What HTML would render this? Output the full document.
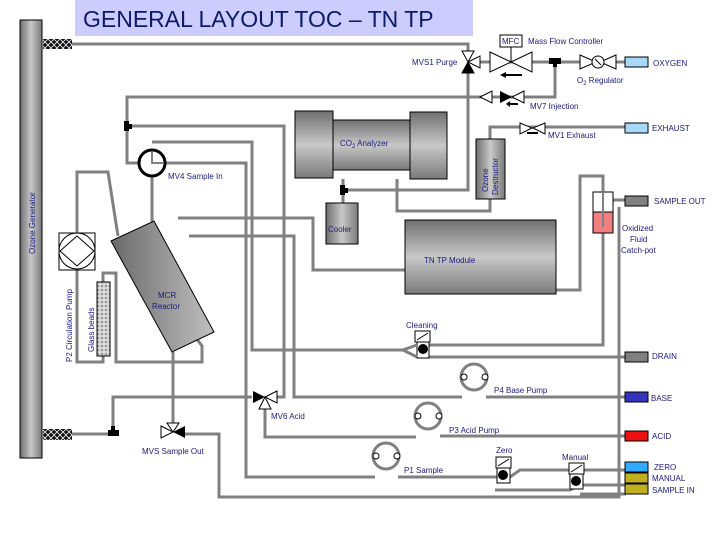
<!DOCTYPE html>
<html><head><meta charset="utf-8"><style>
html,body{margin:0;padding:0;background:#fff;}
svg{display:block;}
text{font-family:"Liberation Sans",sans-serif;fill:#1a1a80;font-size:8px;}
</style></head><body>
<svg width="720" height="540" viewBox="0 0 720 540" xmlns="http://www.w3.org/2000/svg">
<defs>
<linearGradient id="gh" x1="0" y1="0" x2="1" y2="0"><stop offset="0" stop-color="#6e6e6e"/><stop offset="0.5" stop-color="#c8c8c8"/><stop offset="1" stop-color="#7a7a7a"/></linearGradient>
<linearGradient id="gv" x1="0" y1="0" x2="0" y2="1"><stop offset="0" stop-color="#707070"/><stop offset="0.5" stop-color="#c8c8c8"/><stop offset="1" stop-color="#7a7a7a"/></linearGradient>
<linearGradient id="gd" x1="0" y1="0" x2="1" y2="0"><stop offset="0" stop-color="#6a6a6a"/><stop offset="1" stop-color="#c0c0c0"/></linearGradient>
<pattern id="hatch" width="6" height="6" patternUnits="userSpaceOnUse"><rect width="6" height="6" fill="#111"/><path d="M0 3L3 0L6 3L3 6Z" fill="none" stroke="#fff" stroke-width="0.8"/></pattern>
<pattern id="beads" width="4" height="4" patternUnits="userSpaceOnUse"><rect width="4" height="4" fill="#ddd"/><circle cx="2" cy="2" r="1.3" fill="#999"/></pattern>
</defs>

<rect x="75" y="0" width="398" height="36" fill="#ccccff"/>
<text x="83" y="27" style="font-size:23px;fill:#0c1a6a">GENERAL LAYOUT TOC – TN TP</text>

<g fill="none" stroke="#808080" stroke-width="3">
<path d="M72 44H468V55"/>
<path d="M480 62H640"/>
<path d="M555 62V97H127V163H140"/>
<path d="M130 126H284V397H277"/>
<path d="M152 142H252V350H405"/>
<path d="M165 163H246V477H375"/>
<path d="M152 176V230"/>
<path d="M468 73V190H346"/>
<path d="M343 179V203"/>
<path d="M397 179V211H490V199"/>
<path d="M490 139V127H640"/>
<path d="M178 218H313V270H405"/>
<path d="M189 236H294V397H462"/>
<path d="M486 397H640"/>
<path d="M77 233V172H108L118 236"/>
<path d="M77 270V362H103V356"/>
<path d="M103 282V273H116V362H202V346L196 338"/>
<path d="M173 352V425"/>
<path d="M72 434H113V397H252"/>
<path d="M265 405V437H416"/>
<path d="M440 436H640"/>
<path d="M185 434H219V497H619V207"/>
<path d="M398 477H500H510L520 470H640"/>
<path d="M556 290H580V176H603V227"/>
<path d="M613 200H626"/>
<path d="M603 232V345H420"/>
<path d="M420 357H626"/>
<path d="M495 490H570L580 485H626"/>
<path d="M580 494H626"/>
</g>

<rect x="20" y="20" width="22" height="438" fill="url(#gh)" stroke="#000"/>
<text transform="translate(35,254) rotate(-90)">Ozone Generator</text>
<rect x="43" y="39" width="29" height="10" fill="url(#hatch)"/>
<rect x="43" y="429" width="29" height="11" fill="url(#hatch)"/>

<rect x="124" y="121" width="5" height="10" fill="#000"/><rect x="128" y="124" width="4" height="5" fill="#000"/>
<rect x="340" y="185" width="5" height="10" fill="#000"/><rect x="344" y="188" width="4" height="5" fill="#000"/>
<rect x="108" y="430" width="11" height="6" fill="#000"/><rect x="111" y="426" width="4" height="5" fill="#000"/>
<rect x="549" y="58" width="12" height="6" fill="#000"/><rect x="553" y="63" width="4" height="4" fill="#000"/>

<circle cx="152" cy="163" r="13" fill="#fff" stroke="#000" stroke-width="3"/>
<path d="M152 152V163H163" stroke="#808080" stroke-width="2" fill="none"/>
<text x="168" y="179">MV4 Sample In</text>

<rect x="333" y="120" width="77" height="50" fill="url(#gv)" stroke="#000"/>
<rect x="295" y="111" width="38" height="67" fill="url(#gv)" stroke="#000"/>
<rect x="410" y="112" width="37" height="67" fill="url(#gv)" stroke="#000"/>
<text x="340" y="146">CO<tspan style="font-size:6px" dy="2">2</tspan><tspan dy="-2"> Analyzer</tspan></text>

<rect x="476" y="139" width="29" height="60" fill="url(#gh)" stroke="#000"/>
<text transform="translate(488,192) rotate(-90)">Ozone</text>
<text transform="translate(498,195) rotate(-90)">Destructor</text>

<rect x="326" y="203" width="32" height="41" fill="url(#gh)" stroke="#000"/>
<text x="328" y="232">Cooler</text>

<rect x="405" y="220" width="151" height="74" fill="url(#gv)" stroke="#000"/>
<text x="424" y="263">TN TP Module</text>

<rect x="593" y="192" width="20" height="20" fill="#fff" stroke="#000"/>
<rect x="593" y="212" width="20" height="21" fill="#f08080" stroke="#000"/>
<path d="M603 176V227" stroke="#808080" stroke-width="2"/>
<text x="622" y="231">Oxidized</text>
<text x="630" y="242">Fluid</text>
<text x="621" y="253">Catch-pot</text>

<polygon points="111,241 154,221 214,332 172,352" fill="url(#gd)" stroke="#000"/>
<text x="158" y="298">MCR</text>
<text x="152" y="309">Reactor</text>

<rect x="59" y="233" width="36" height="37" fill="#fff" stroke="#000"/>
<circle cx="77" cy="251" r="18" fill="#fff" stroke="#000"/>
<path d="M60 251L77 236L94 251L77 266Z" fill="none" stroke="#000"/>
<text transform="translate(72,362) rotate(-90)">P2 Circulation Pump</text>
<rect x="97" y="282" width="13" height="74" fill="url(#beads)" stroke="#000"/>
<text transform="translate(94,352) rotate(-90)">Glass beads</text>

<path d="M462 51L474 51L468 62Z M462 73L474 73L468 62Z" fill="#fff" stroke="#000"/>
<path d="M462 73L474 73L468 62Z" fill="#000"/>
<path d="M468 62L480 56L480 68Z" fill="#fff" stroke="#000"/>
<text x="412" y="65">MVS1 Purge</text>
<rect x="500" y="35" width="22" height="12" fill="#fff" stroke="#000"/>
<text x="502" y="44">MFC</text>
<path d="M511 47V62" stroke="#000"/>
<path d="M490 52L511 62L490 72Z M532 52L511 62L532 72Z" fill="#fff" stroke="#000"/>
<path d="M502 75H522" stroke="#000" stroke-width="2"/><path d="M500 75L506 72V78Z" fill="#000"/>
<text x="528" y="44">Mass Flow Controller</text>
<path d="M580 55L596 62L580 69Z M616 55L600 62L616 69Z" fill="#fff" stroke="#000"/>
<circle cx="598" cy="62" r="6" fill="#fff" stroke="#000"/>
<path d="M595 59L601 65" stroke="#000"/>
<text x="577" y="83">O<tspan style="font-size:6px" dy="2">2</tspan><tspan dy="-2"> Regulator</tspan></text>
<path d="M480 97L492 91V103Z" fill="#fff" stroke="#000"/>
<path d="M500 91L512 97L500 103Z" fill="#000"/>
<path d="M524 91L512 97L524 103Z" fill="#fff" stroke="#000"/>
<path d="M508 104H518" stroke="#000" stroke-width="2"/><path d="M506 104L510 101V107Z" fill="#000"/>
<text x="530" y="109">MV7 Injection</text>
<path d="M520 123L532 128L520 134Z M545 123L533 128L545 134Z" fill="#fff" stroke="#000"/>
<path d="M527 133H538" stroke="#000" stroke-width="2"/>
<text x="548" y="138">MV1 Exhaust</text>

<path d="M253 391L265 397L253 403Z" fill="#000"/>
<path d="M277 391L265 397L277 403Z M259 409L271 409L265 397Z" fill="#fff" stroke="#000"/>
<text x="271" y="419">MV6 Acid</text>
<path d="M161 426L173 432L161 438Z M167 423H179L173 432Z" fill="#fff" stroke="#000"/>
<path d="M185 426L173 432L185 438Z" fill="#000"/>
<text x="142" y="454">MVS Sample Out</text>

<rect x="415" y="331" width="15" height="11" fill="#fff" stroke="#000"/><path d="M417 340L428 333" stroke="#000"/>
<rect x="417" y="342" width="12" height="16" fill="#fff" stroke="#000"/><circle cx="423" cy="349" r="5" fill="#000"/>
<path d="M417 345L403 350L417 357" fill="none" stroke="#808080" stroke-width="3"/>
<text x="406" y="328">Cleaning</text>

<g stroke="#808080" stroke-width="3" fill="#fff">
<circle cx="474" cy="377" r="13"/><circle cx="428" cy="416" r="13"/><circle cx="386" cy="456" r="13"/>
</g>
<g stroke="#000" fill="#fff">
<circle cx="464" cy="377" r="3"/><circle cx="485" cy="377" r="3"/>
<circle cx="418" cy="416" r="3"/><circle cx="439" cy="416" r="3"/>
<circle cx="376" cy="456" r="3"/><circle cx="397" cy="456" r="3"/>
</g>
<text x="494" y="393">P4 Base Pump</text>
<text x="449" y="433">P3 Acid Pump</text>
<text x="404" y="473">P1 Sample</text>

<rect x="496" y="457" width="15" height="11" fill="#fff" stroke="#000"/><path d="M498 466L509 459" stroke="#000"/>
<rect x="497" y="468" width="13" height="15" fill="#fff" stroke="#000"/><circle cx="503" cy="475" r="5" fill="#000"/>
<text x="496" y="453">Zero</text>
<rect x="569" y="463" width="15" height="11" fill="#fff" stroke="#000"/><path d="M571 472L582 465" stroke="#000"/>
<rect x="570" y="474" width="13" height="15" fill="#fff" stroke="#000"/><circle cx="576" cy="481" r="5" fill="#000"/>
<text x="562" y="460">Manual</text>

<g stroke="#000" stroke-width="1">
<rect x="625" y="57" width="23" height="10" fill="#a8d8f8"/>
<rect x="625" y="123" width="23" height="10" fill="#a8d8f8"/>
<rect x="625" y="196" width="23" height="10" fill="#808080"/>
<rect x="625" y="352" width="23" height="10" fill="#808080"/>
<rect x="625" y="392" width="23" height="10" fill="#3333bb"/>
<rect x="625" y="431" width="23" height="10" fill="#ee1111"/>
<rect x="625" y="462" width="23" height="10" fill="#33aaff"/>
<rect x="625" y="473" width="23" height="10" fill="#c0b020"/>
<rect x="625" y="484" width="23" height="10" fill="#c0b020"/>
</g>
<text x="653" y="66">OXYGEN</text>
<text x="652" y="131">EXHAUST</text>
<text x="654" y="204">SAMPLE OUT</text>
<text x="652" y="359">DRAIN</text>
<text x="651" y="401">BASE</text>
<text x="652" y="439">ACID</text>
<text x="654" y="470">ZERO</text>
<text x="652" y="481">MANUAL</text>
<text x="652" y="493">SAMPLE IN</text>
</svg>
</body></html>
